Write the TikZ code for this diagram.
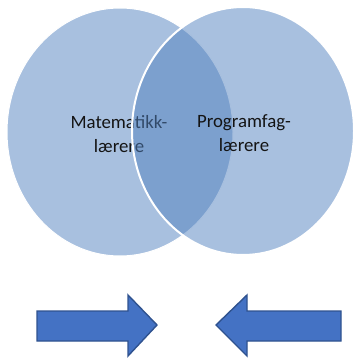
\documentclass[tikz,border=0pt]{standalone}
\usepackage{fontspec}
\setmainfont{Carlito}
\definecolor{circA}{RGB}{168,192,223}
\definecolor{circB}{RGB}{81,129,191}
\definecolor{arrowfill}{RGB}{68,114,196}
\definecolor{arrowline}{RGB}{47,82,143}
\definecolor{txt}{RGB}{20,20,20}
\begin{document}
\begin{tikzpicture}[x=1pt,y=-1pt,
  lbl/.style={align=center,text=txt,font=\fontsize{18.8}{24}\selectfont,inner sep=0pt},
  bigarrow/.style={fill=arrowfill,draw=arrowline,line width=1.4pt,line join=miter}]
\useasboundingbox (0,0) rectangle (355,358);
% left set
\fill[circA] (120,132) ellipse [x radius=113, y radius=124];
\draw[white,line width=1pt] (120,132) ellipse [x radius=113, y radius=124];
\node[lbl] (math) at (119,134) {Matematikk-\\lærere};
% right set, semi-transparent over the left one
\fill[circB,fill opacity=0.5] (243,131) ellipse [x radius=111, y radius=124];
\draw[white,line width=2pt] (243,131) ellipse [x radius=111, y radius=124];
\node[lbl] (prog) at (244,133) {Programfag-\\lærere};
% arrows
\draw[bigarrow] (37,311) -- (128,311) -- (128,295) -- (157,325) -- (128,356) -- (128,341) -- (37,341) -- cycle;
\draw[bigarrow] (341,311) -- (247,311) -- (247,295) -- (216,325) -- (247,356) -- (247,341) -- (341,341) -- cycle;
\end{tikzpicture}
\end{document}
